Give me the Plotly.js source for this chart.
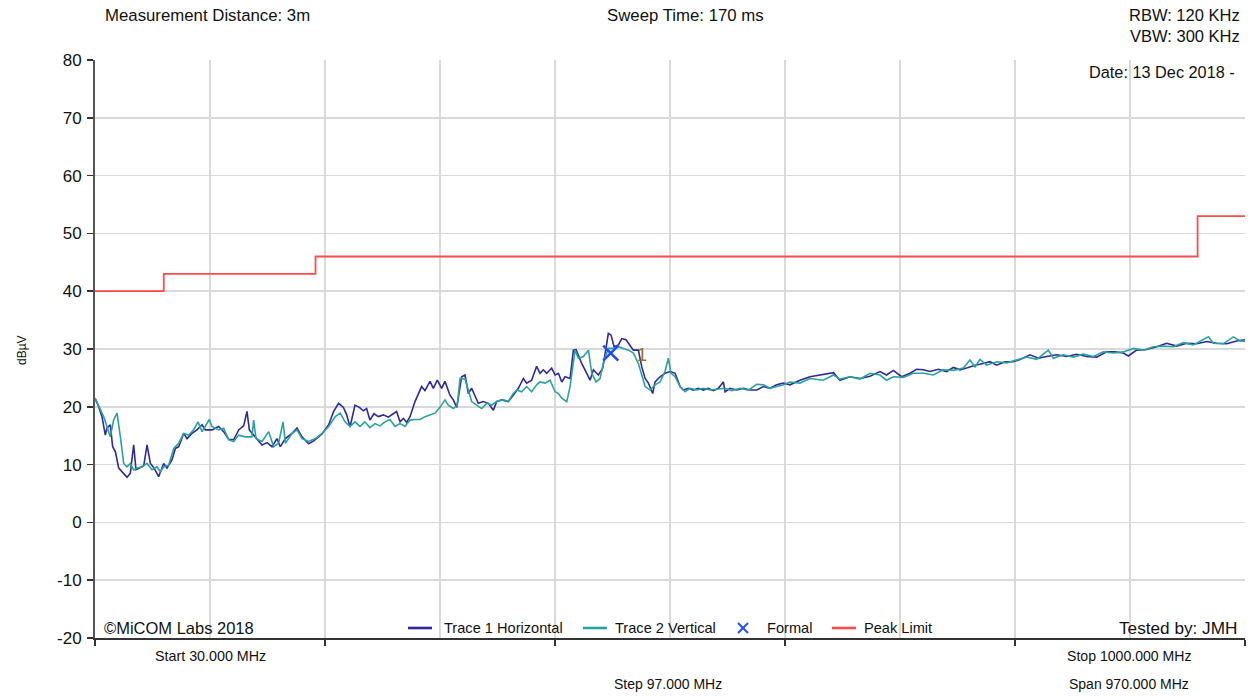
<!DOCTYPE html>
<html>
<head>
<meta charset="utf-8">
<script src="https://cdn.plot.ly/plotly-3.0.1.min.js"></script>
<style>
html,body{margin:0;padding:0;background:#fff;}
#chart{width:1252px;height:696px;}
</style>
</head>
<body>
<div id="chart"></div>
<script>
// ---- data ----
var startMHz = 30, stopMHz = 1000, stepMHz = 97;

var trace1Freq = [30,33.1,35.9,38.7,40.1,42.9,44.9,47.2,50.0,52.8,57.0,59.8,62.6,64.6,68.2,71.1,73.9,76.7,79.5,83.7,87.9,90.7,94.9,97.8,100.6,104.8,107.6,111.8,116.0,120.3,123.1,128.7,134.3,138.5,142.8,147.0,151.2,155.4,158.2,160.2,163.8,166.6,170.9,175.1,179.3,183.5,186.3,190.6,196.2,200.4,204.6,210.2,214.5,221.5,227.1,231.3,235.5,239.5,242.3,245.1,249.3,253.0,256.3,259.1,261.9,265.3,269.0,273.2,277.4,281.6,284.4,287.3,290.1,292.9,295.7,299.9,305.5,308.3,312.6,315.4,318.7,322.4,325.2,329.4,332.2,335.1,339.3,342.1,344.9,347.7,350.5,353.3,357.5,361.8,366.0,368.8,373.0,378.6,382.8,387.1,391.3,394.1,398.3,402.5,405.4,408.2,411.0,415.2,418.1,420.9,423.7,426.5,430.7,433.5,435.8,440.5,444.8,447.6,450.4,454.6,458.3,460.2,463.0,465.3,467.8,471.5,474.3,477.9,480.8,484.1,488.3,491.2,494.0,496.8,500.4,502.4,506.6,510.8,515.1,519.3,523.5,526.3,530.5,534.7,539.0,543.2,547.4,551.6,555.8,560.0,561.5,565.7,571.3,576.9,582.5,588.2,593.8,599.4,605.0,610.7,616.2,624.6,633.1,641.5,652.8,658.4,666.8,675.2,683.7,692.1,697.7,703.4,710.4,717.4,723.0,728.7,734.3,741.3,748.4,754.0,759.6,765.2,772.3,779.3,784.9,790.5,797.6,804.6,810.2,818.6,825.7,832.7,841.1,849.6,858.0,866.4,874.9,883.3,890.3,897.4,901.6,908.6,917.1,925.5,933.9,942.4,950.8,959.2,967.7,976.1,984.5,993.0,1000];
var trace1Level = [21.5,20.0,18.3,15.1,16.3,16.9,13.1,12.2,9.4,8.8,7.8,8.5,13.4,9.1,9.5,9.8,13.4,10.2,9.5,7.9,10.2,9.4,10.8,12.8,13.1,15.4,14.5,15.4,16.0,16.9,16.0,16.0,16.6,15.7,14.4,14.3,16.0,16.7,19.2,16.0,15.1,14.5,13.4,13.8,13.1,14.5,13.1,14.5,15.4,16.3,14.8,13.6,14.1,15.3,16.9,19.2,20.6,19.9,18.6,16.5,20.3,19.9,19.3,19.7,17.7,18.8,18.3,18.6,18.2,18.8,19.2,17.4,18.0,17.3,18.3,20.9,23.5,22.8,24.4,23.2,24.6,23.2,24.4,22.0,21.2,19.9,25.2,25.5,22.3,23.2,22.0,20.6,20.9,20.6,19.4,20.9,21.2,20.9,22.0,23.2,24.9,24.1,24.6,27.0,25.8,26.4,25.8,26.7,25.5,25.8,24.3,25.2,24.9,29.8,29.9,27.5,25.8,24.6,26.4,25.5,26.7,29.3,32.7,32.4,30.4,30.7,31.8,31.6,30.7,29.8,29.8,26.9,24.9,24.1,22.3,24.3,25.2,25.8,26.1,25.8,23.5,22.9,23.2,22.9,23.2,22.9,23.2,22.8,23.2,24.3,22.6,23.2,22.9,23.2,22.9,22.9,23.5,23.2,23.8,24.1,23.8,24.6,25.2,25.5,25.9,24.6,25.2,24.9,25.3,26.1,25.5,26.3,25.2,25.8,26.5,26.4,26.1,26.5,26.1,26.8,26.4,26.7,27.2,27.5,27.8,27.2,27.8,27.8,28.2,29.0,28.4,28.7,29.0,28.7,29.1,28.7,28.6,29.5,29.5,29.3,28.8,29.8,29.9,30.4,31.0,30.5,31.0,30.9,31.3,31.0,30.9,31.4,31.6];

var trace2Freq = [30,33.1,35.9,37.3,40.1,42.9,45.7,48.6,51.4,54.2,57.0,59.8,62.6,65.4,69.6,73.9,78.1,82.3,85.1,87.9,92.1,96.4,100.6,104.8,109.0,113.2,116.9,120.3,126.4,128.7,134.3,138.5,142.8,147.0,151.2,156.8,162.4,163.8,165.8,170.9,176.5,180.7,184.9,188.6,190.6,196.2,200.4,204.6,210.2,215.9,221.5,227.1,232.7,236.9,240.9,245.1,249.3,253.5,257.7,261.9,266.2,270.4,274.6,278.8,283.0,287.3,291.5,295.7,299.9,304.1,308.3,312.6,316.8,321.0,325.2,328.0,332.2,335.6,337.9,342.1,344.9,347.7,351.9,356.1,360.4,364.6,368.8,374.4,378.6,382.8,385.7,389.9,394.1,398.3,402.5,405.4,409.6,413.8,418.1,420.9,423.7,427.9,430.7,434.9,437.7,441.9,446.2,449.0,452.6,456.0,459.4,463.0,467.0,471.5,475.7,479.9,484.1,488.3,491.2,494.0,498.2,502.4,506.6,510.8,513.6,515.9,519.3,523.5,527.7,531.9,537.6,543.2,548.8,554.0,561.5,567.1,574.1,581.1,588.2,593.8,599.4,605.0,610.7,616.2,624.6,633.1,644.3,652.8,658.4,666.8,675.2,683.7,692.1,697.7,703.4,711.8,720.2,728.7,737.1,745.5,754.0,762.4,768.0,772.3,776.5,782.1,790.5,799.0,807.4,815.8,824.3,834.1,838.3,846.8,855.2,863.6,872.1,880.5,888.9,897.4,905.8,914.2,922.7,931.1,939.5,948.0,956.4,964.9,969.1,973.3,981.7,990.2,995.8,1000];
var trace2Level = [21.5,20.0,18.9,18.3,16.6,14.8,17.7,18.9,14.8,10.2,9.6,10.2,9.1,9.4,9.6,10.2,9.1,9.6,8.8,9.6,9.9,12.8,13.7,15.4,15.1,16.0,17.4,15.7,17.8,16.6,16.0,16.3,14.3,14.0,15.1,14.8,14.8,17.7,14.5,14.0,15.7,13.1,13.7,17.4,13.7,15.4,16.0,14.5,14.0,14.5,15.4,16.6,18.3,18.9,17.4,16.6,17.4,16.6,17.4,16.4,17.1,16.7,17.4,17.8,16.6,17.1,16.6,17.7,17.8,17.8,18.3,18.6,18.9,19.9,21.2,20.3,19.7,20.3,24.9,24.8,22.6,20.9,20.3,19.7,20.6,20.3,20.9,21.2,20.9,22.3,22.9,22.6,23.5,22.6,23.8,24.3,24.1,24.6,22.6,22.3,21.5,20.9,23.5,29.8,28.4,28.7,29.8,25.8,24.3,24.9,28.1,30.1,30.1,30.4,30.1,29.8,29.3,27.5,25.5,23.5,22.9,23.8,24.3,26.1,28.4,25.8,25.2,23.5,22.6,23.2,22.9,23.2,22.9,23.0,23.2,22.8,23.2,22.9,23.9,23.8,23.2,23.5,23.8,24.3,24.1,24.9,24.6,25.5,24.8,25.2,24.8,25.8,25.5,24.6,25.2,25.1,25.8,25.8,25.5,26.4,26.3,26.7,28.1,26.9,28.2,27.2,27.8,27.6,28.1,28.6,28.2,29.8,28.4,29.0,28.6,29.1,28.7,29.5,29.3,29.5,30.1,29.8,30.4,30.5,30.4,31.1,30.7,31.6,32.1,31.0,30.9,32.1,31.4,31.3];

var markerFreq = [465];
var markerLevel = [29.3];
var markerLabels = ['1'];

var limitFreq = [30, 88, 216, 960, 1000];
var limitLevel = [40, 43, 46, 53, 53];

var yTicks = [-20,-10,0,10,20,30,40,50,60,70,80];

var legendNames = ['Trace 1 Horizontal', 'Trace 2 Vertical', 'Formal', 'Peak Limit'];

// ---- styles ----
var FONT = 'Arial, "Liberation Sans", sans-serif';
var GRID = '#d9d9d9';
var TXT = '#111111';
var C1 = '#2e2a9c', C2 = '#2aa39c', CM = '#1f4dff', CL = '#ff4b4b';

var data = [
  {x: trace1Freq, y: trace1Level, type: 'scatter', mode: 'lines', name: legendNames[0],
   line: {color: C1, width: 1.6}},
  {x: trace2Freq, y: trace2Level, type: 'scatter', mode: 'lines', name: legendNames[1],
   line: {color: C2, width: 1.6}},
  {x: markerFreq, y: markerLevel, type: 'scatter', mode: 'markers', name: legendNames[2],
   marker: {symbol: 'x-thin-open', size: 15, color: CM, line: {width: 2.6, color: CM}}},
  {x: limitFreq, y: limitLevel, type: 'scatter', mode: 'lines', name: legendNames[3],
   line: {color: CL, width: 1.8, shape: 'hv'}}
];

function px2x(px){ return (px - 95) / 1150; }
function px2y(py){ return (638 - py) / 578; }
function ann(text, px, py, anchor, size){
  return {text: text, xref: 'paper', yref: 'paper', x: px2x(px), y: px2y(py),
          xanchor: anchor, yanchor: 'middle', showarrow: false,
          font: {family: FONT, size: size || 14, color: TXT}};
}

var annotations = [
  ann('Measurement Distance: 3m', 103, 16, 'left', 16.8),
  ann('Sweep Time: 170 ms', 685, 16, 'center', 16.8),
  ann('RBW: 120 KHz', 1242, 15, 'right', 16.5),
  ann('VBW: 300 KHz', 1242, 36, 'right', 16.5),
  ann('Date: 13 Dec 2018 -', 1237, 72, 'right', 16.3),
  ann('©MiCOM Labs 2018', 102, 628, 'left', 16.5),
  ann('Tested by: JMH', 1239, 628, 'right', 17.2),
  ann('Start ' + startMHz.toFixed(3) + ' MHz', 210, 656, 'center', 14.3),
  ann('Stop ' + stopMHz.toFixed(3) + ' MHz', 1129, 656, 'center', 14.1),
  ann('Step ' + stepMHz.toFixed(3) + ' MHz', 668, 684, 'center', 14),
  ann('Span ' + (stopMHz - startMHz).toFixed(3) + ' MHz', 1129, 684, 'center', 14),
  {text: 'dBµV', xref: 'paper', yref: 'paper', x: px2x(22), y: px2y(350), textangle: -90,
   xanchor: 'center', yanchor: 'middle', showarrow: false, font: {family: FONT, size: 12, color: TXT}},
  {text: markerLabels[0], xref: 'x', yref: 'y', x: markerFreq[0], y: markerLevel[0],
   xanchor: 'center', yanchor: 'middle', xshift: 31, yshift: -2,
   showarrow: false, font: {family: FONT, size: 18, color: '#9c6b14'}},
  // legend texts
  ann(legendNames[0], 442, 628, 'left', 14.6),
  ann(legendNames[1], 613, 628, 'left', 14.6),
  ann(legendNames[2], 765, 628, 'left', 14.6),
  ann(legendNames[3], 862, 628, 'left', 14.6)
];

var center = (startMHz + stopMHz) / 2;

function legLine(x0, x1, color){
  return {type: 'line', xref: 'paper', yref: 'paper', x0: px2x(x0), x1: px2x(x1),
          y0: px2y(628), y1: px2y(628), line: {color: color, width: 2.6}};
}
function legX(cx, half){
  return [
    {type: 'line', xref: 'paper', yref: 'paper', x0: px2x(cx - half), x1: px2x(cx + half),
     y0: px2y(628 - half), y1: px2y(628 + half), line: {color: CM, width: 2}},
    {type: 'line', xref: 'paper', yref: 'paper', x0: px2x(cx - half), x1: px2x(cx + half),
     y0: px2y(628 + half), y1: px2y(628 - half), line: {color: CM, width: 2}}
  ];
}

var shapes = [
  {type: 'line', xref: 'x', yref: 'paper', x0: center, x1: center, y0: 0, y1: 1,
   line: {color: '#a9a9a9', width: 2}, layer: 'between'},
  legLine(408, 432, C1),
  legLine(583, 607, C2),
  legLine(832, 856, CL)
].concat(legX(743, 5));

var layout = {
  width: 1252, height: 696,
  margin: {l: 95, r: 7, t: 60, b: 58},
  paper_bgcolor: '#ffffff', plot_bgcolor: '#ffffff',
  font: {family: FONT, size: 14, color: TXT},
  showlegend: false,
  xaxis: {range: [startMHz, stopMHz], tick0: startMHz, dtick: 2 * stepMHz,
          showticklabels: false, ticks: 'outside', ticklen: 6, tickwidth: 1.5, tickcolor: '#333',
          showgrid: true, gridcolor: GRID, gridwidth: 1.5,
          minor: {tick0: startMHz, dtick: stepMHz, showgrid: true, gridcolor: GRID, gridwidth: 1.5, ticks: ''},
          showline: true, linecolor: '#333', linewidth: 1.5, zeroline: false, fixedrange: true},
  yaxis: {range: [-20, 80], tickvals: yTicks, ticktext: yTicks.map(String),
          ticks: 'outside', ticklen: 6, tickwidth: 1.5, tickcolor: '#333',
          tickfont: {family: FONT, size: 17, color: TXT}, ticklabelstandoff: 2,
          showgrid: true, gridcolor: GRID, gridwidth: 1.5,
          showline: true, linecolor: '#555', linewidth: 2, zeroline: false, fixedrange: true},
  shapes: shapes,
  annotations: annotations
};

Plotly.newPlot('chart', data, layout, {displayModeBar: false, staticPlot: true});
</script>
</body>
</html>
